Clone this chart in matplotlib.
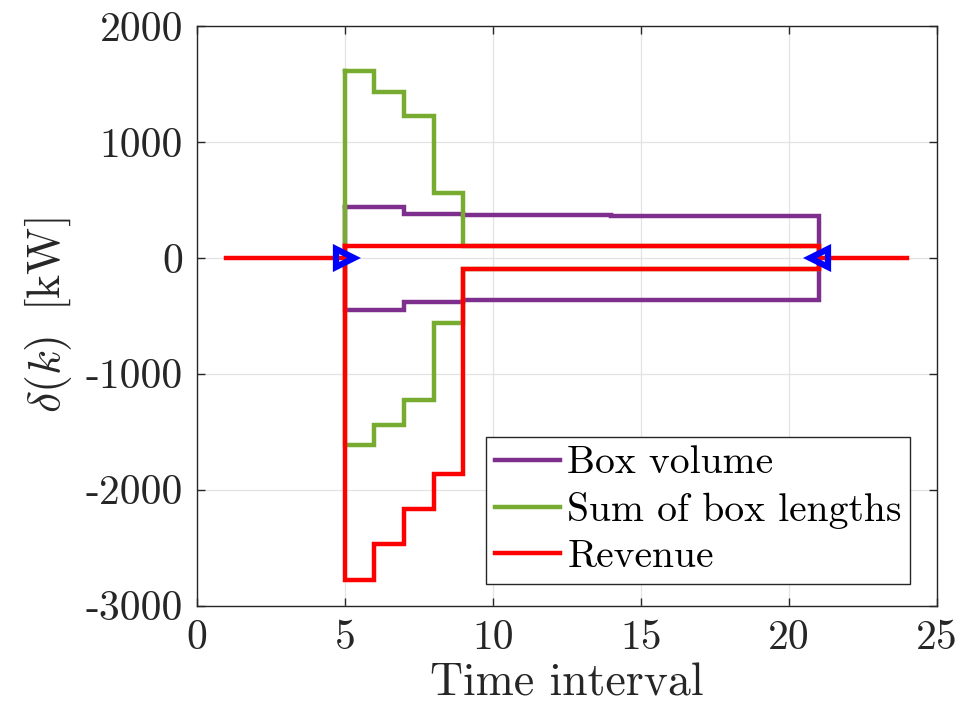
import numpy as np
import matplotlib
matplotlib.use("Agg")
import matplotlib.pyplot as plt
from matplotlib.ticker import FuncFormatter

# ---- data -------------------------------------------------------------
# interval edges of the active window (k = 5 ... 20, closed at 21)
k_start = 5
k_end = 21

# upper / lower bound of delta(k) for every interval k = 5 ... 20  [kW]
volume_upper = [442, 442, 380, 380, 368, 367, 367, 366, 366, 365, 365, 364, 364, 363, 363, 362]
volume_lower = [-446, -446, -384, -384, -368, -367, -367, -366, -366, -365, -365, -364, -364, -363, -363, -362]

lengths_upper = [1612, 1431, 1224, 560, 100, 100, 100, 100, 100, 100, 100, 100, 100, 100, 100, 100]
lengths_lower = [-1615, -1438, -1228, -565, -100, -100, -100, -100, -100, -100, -100, -100, -100, -100, -100, -100]

revenue_upper = [100, 100, 100, 100, 100, 100, 100, 100, 100, 100, 100, 100, 100, 100, 100, 100]
revenue_lower = [-2777, -2472, -2167, -1862, -100, -100, -100, -100, -100, -100, -100, -100, -100, -100, -100, -100]

# trajectory outside the window (delta = 0)
pre_x = [1, 5]
post_x = [21, 24]
outside_y = [0, 0]

# window boundaries marked on the zero line
marker_x = [5, 21]
marker_y = [0, 0]

series_labels = ["Box volume", "Sum of box lengths", "Revenue"]
x_ticks = [0, 5, 10, 15, 20, 25]
y_ticks = [-3000, -2000, -1000, 0, 1000, 2000]

# ---- style ------------------------------------------------------------
plt.rcParams.update({
    "font.family": "serif",
    "font.serif": ["cmr10"],
    "mathtext.fontset": "cm",
    "axes.unicode_minus": False,
    "axes.formatter.use_mathtext": True,
})

PURPLE = "#7E2F8E"
GREEN = "#77AC30"
RED = "#FF0000"
BLUE = "#0000FF"
AXCOL = "#262626"


def box_outline(upper, lower, k0, k1):
    """Closed step outline: upper bound left->right, lower bound right->left."""
    edges = np.arange(k0, k1 + 1)
    up = np.asarray(upper, float)
    lo = np.asarray(lower, float)
    xu = np.repeat(edges, 2)[1:-1]
    yu = np.repeat(up, 2)
    xl = xu[::-1]
    yl = np.repeat(lo, 2)[::-1]
    x = np.concatenate([xu, xl, [xu[0]]])
    y = np.concatenate([yu, yl, [yu[0]]])
    return x, y


fig = plt.figure(figsize=(9.65, 7.21), dpi=100)
ax = fig.add_axes([0.204, 0.160, 0.767, 0.804])

lw = 3.2
x, y = box_outline(volume_upper, volume_lower, k_start, k_end)
ax.plot(x, y, color=PURPLE, lw=lw, label=series_labels[0], solid_joinstyle="miter")
x, y = box_outline(lengths_upper, lengths_lower, k_start, k_end)
ax.plot(x, y, color=GREEN, lw=lw, label=series_labels[1], solid_joinstyle="miter")
x, y = box_outline(revenue_upper, revenue_lower, k_start, k_end)
ax.plot(x, y, color=RED, lw=lw, label=series_labels[2], solid_joinstyle="miter")

ax.plot(pre_x, outside_y, color=RED, lw=lw)
ax.plot(post_x, outside_y, color=RED, lw=lw)
ax.plot(marker_x[:1], marker_y[:1], ">", color=BLUE, ms=13, mfc="none", mew=4.5)
ax.plot(marker_x[1:], marker_y[1:], "<", color=BLUE, ms=13, mfc="none", mew=4.5)

ax.set_xlim(0, 25)
ax.set_ylim(-3000, 2000)
ax.set_xticks(x_ticks)
ax.set_yticks(y_ticks)
ax.xaxis.set_major_formatter(FuncFormatter(lambda v, p: "%d" % v))
ax.yaxis.set_major_formatter(FuncFormatter(lambda v, p: "%d" % v))

ax.grid(True, color="#e3e3e3", lw=0.9)
ax.set_axisbelow(True)
for s in ax.spines.values():
    s.set_color(AXCOL)
    s.set_linewidth(1.0)
ax.tick_params(direction="in", length=6, width=1.0, color=AXCOL,
               labelsize=30, labelcolor=AXCOL, top=True, right=True, pad=10)

ax.set_xlabel("Time interval", fontsize=33, color=AXCOL, labelpad=4)
ax.set_ylabel(r"$\delta(k)\;\;[\mathrm{kW}]$", fontsize=33, color=AXCOL, labelpad=8)

leg = ax.legend(loc="lower right", bbox_to_anchor=(0.964, 0.038), borderaxespad=0,
                fontsize=28.5, frameon=True, fancybox=False, framealpha=1,
                edgecolor=AXCOL, handlelength=1.65, handletextpad=0.18,
                borderpad=0.22, labelspacing=0.26)
leg.get_frame().set_linewidth(1.0)
for t in leg.get_texts():
    t.set_color("black")

fig.savefig("out.png", dpi=100)
